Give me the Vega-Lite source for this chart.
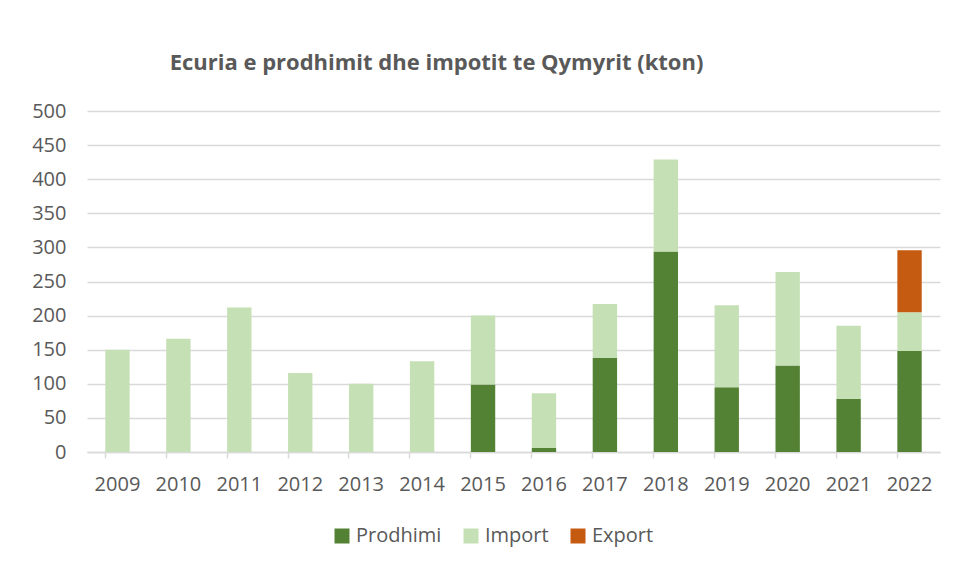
{
  "$schema": "https://vega.github.io/schema/vega-lite/v6.json",
  "width": 853,
  "height": 341,
  "autosize": {"type": "none"},
  "padding": {"left": 87, "top": 111, "right": 16, "bottom": 115},
  "background": "white",
  "title": {
    "text": "Ecuria e prodhimit dhe impotit te Qymyrit (kton)",
    "anchor": "middle",
    "frame": "group",
    "dx": -77,
    "offset": 26,
    "font": "Open Sans",
    "fontSize": 22,
    "fontWeight": "bold",
    "color": "#595959"
  },
  "data": {
    "values": [
      {"year": "2009", "series": "Prodhimi", "ord": 1, "value": 0},
      {"year": "2009", "series": "Import", "ord": 2, "value": 150},
      {"year": "2010", "series": "Import", "ord": 2, "value": 166},
      {"year": "2011", "series": "Import", "ord": 2, "value": 212},
      {"year": "2012", "series": "Import", "ord": 2, "value": 116},
      {"year": "2013", "series": "Import", "ord": 2, "value": 100},
      {"year": "2014", "series": "Import", "ord": 2, "value": 133},
      {"year": "2015", "series": "Prodhimi", "ord": 1, "value": 99},
      {"year": "2015", "series": "Import", "ord": 2, "value": 101},
      {"year": "2016", "series": "Prodhimi", "ord": 1, "value": 6},
      {"year": "2016", "series": "Import", "ord": 2, "value": 80},
      {"year": "2017", "series": "Prodhimi", "ord": 1, "value": 138},
      {"year": "2017", "series": "Import", "ord": 2, "value": 79},
      {"year": "2018", "series": "Prodhimi", "ord": 1, "value": 294},
      {"year": "2018", "series": "Import", "ord": 2, "value": 135},
      {"year": "2019", "series": "Prodhimi", "ord": 1, "value": 95},
      {"year": "2019", "series": "Import", "ord": 2, "value": 120},
      {"year": "2020", "series": "Prodhimi", "ord": 1, "value": 127},
      {"year": "2020", "series": "Import", "ord": 2, "value": 137},
      {"year": "2021", "series": "Prodhimi", "ord": 1, "value": 78},
      {"year": "2021", "series": "Import", "ord": 2, "value": 107},
      {"year": "2022", "series": "Prodhimi", "ord": 1, "value": 148},
      {"year": "2022", "series": "Import", "ord": 2, "value": 57},
      {"year": "2022", "series": "Export", "ord": 3, "value": 91}
    ]
  },
  "mark": {"type": "bar"},
  "encoding": {
    "x": {
      "field": "year",
      "type": "nominal",
      "sort": null,
      "scale": {"paddingInner": 0.6, "paddingOuter": 0.3},
      "axis": {
        "title": null,
        "labelAngle": 0,
        "bandPosition": 0,
        "domainColor": "#d9d9d9",
        "domainWidth": 1.5,
        "tickColor": "#d9d9d9",
        "tickWidth": 1.5,
        "tickSize": 6,
        "labelPadding": 16,
        "labelFont": "Open Sans",
        "labelFontSize": 20,
        "labelColor": "#595959",
        "grid": false
      }
    },
    "y": {
      "field": "value",
      "type": "quantitative",
      "stack": "zero",
      "scale": {"domain": [0, 500], "nice": false},
      "axis": {
        "title": null,
        "values": [0, 50, 100, 150, 200, 250, 300, 350, 400, 450, 500],
        "domain": false,
        "ticks": false,
        "labelPadding": 21,
        "labelFont": "Open Sans",
        "labelFontSize": 20,
        "labelColor": "#595959",
        "gridColor": "#d9d9d9",
        "gridWidth": 1.5
      }
    },
    "color": {
      "field": "series",
      "type": "nominal",
      "scale": {
        "domain": ["Prodhimi", "Import", "Export"],
        "range": ["#548235", "#C5E0B4", "#C55A11"]
      },
      "legend": {
        "title": null,
        "orient": "none",
        "direction": "horizontal",
        "legendX": 245,
        "legendY": 415,
        "symbolType": "square",
        "symbolSize": 225,
        "symbolStrokeWidth": 0,
        "columnPadding": 19,
        "labelFont": "Open Sans",
        "labelFontSize": 20,
        "labelColor": "#595959",
        "labelOffset": 4
      }
    },
    "order": {"field": "ord", "type": "quantitative"}
  },
  "config": {"view": {"stroke": null}}
}
